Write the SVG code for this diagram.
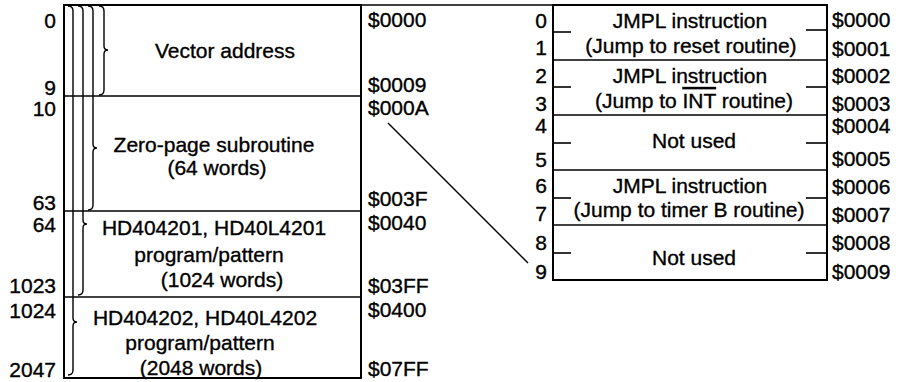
<svg xmlns="http://www.w3.org/2000/svg" width="898" height="382" viewBox="0 0 898 382">
<style>
text{font-family:"Liberation Sans",Arial,Helvetica,sans-serif;font-size:21px;fill:#000;stroke:#000;stroke-width:0.35}
.m{text-anchor:middle}
.e{text-anchor:end}
.b{fill:none;stroke:#000;stroke-width:2}
.d{fill:none;stroke:#000;stroke-width:1.6}
.br{fill:none;stroke:#000;stroke-width:1.4}
</style>
<rect width="898" height="382" fill="#fff"/>
<line class="d" x1="361" y1="5" x2="553" y2="5"/>
<g id="memory-map">
<rect class="b" x="64" y="5" width="297" height="373"/>
<line class="d" x1="64" y1="96" x2="361" y2="96"/>
<line class="d" x1="64" y1="211" x2="361" y2="211"/>
<line class="d" x1="64" y1="297" x2="361" y2="297"/>
</g>
<g id="braces">
<path class="br" d="M99,6 Q104,6 104,11 L104,46 Q104,50 108,50 Q104,50 104,54 L104,90 Q104,95 99,95"/>
<path class="br" d="M88,6 Q93,6 93,11 L93,144 Q93,148 97,148 Q93,148 93,152 L93,205 Q93,210 88,210"/>
<path class="br" d="M78,6 Q83,6 83,11 L83,220 Q83,224 87,224 Q83,224 83,228 L83,290 Q83,295 78,295"/>
<path class="br" d="M68,6 Q73,6 73,11 L73,318 Q73,322 77,322 Q73,322 73,326 L73,370 Q73,375 68,375"/>
</g>
<g id="vector-address"><text class="m" x="225" y="58">Vector address</text></g>
<g id="zero-page"><text class="m" x="214" y="152">Zero-page subroutine</text><text class="m" x="217" y="175">(64 words)</text></g>
<g id="hd404201"><text class="m" x="214" y="235">HD404201, HD40L4201</text><text class="m" x="209" y="262">program/pattern</text><text class="m" x="222" y="287">(1024 words)</text></g>
<g id="hd404202"><text class="m" x="205" y="325">HD404202, HD40L4202</text><text class="m" x="200" y="350">program/pattern</text><text class="m" x="201" y="375">(2048 words)</text></g>
<g id="left-decimal">
<text class="e" x="56" y="28">0</text>
<text class="e" x="56" y="95">9</text>
<text class="e" x="56" y="116">10</text>
<text class="e" x="56" y="210">63</text>
<text class="e" x="56" y="232">64</text>
<text class="e" x="56" y="293">1023</text>
<text class="e" x="56" y="318">1024</text>
<text class="e" x="56" y="377">2047</text>
</g>
<g id="left-hex">
<text x="368" y="27">$0000</text>
<text x="368" y="92">$0009</text>
<text x="368" y="115">$000A</text>
<text x="368" y="206">$003F</text>
<text x="368" y="230">$0040</text>
<text x="368" y="293">$03FF</text>
<text x="368" y="317">$0400</text>
<text x="368" y="376">$07FF</text>
</g>
<g id="connectors">
<line class="br" x1="388" y1="123" x2="528" y2="263"/>
</g>
<g id="vector-table">
<rect class="b" x="553" y="5" width="274" height="275"/>
<line class="d" x1="553" y1="60" x2="827" y2="60"/>
<line class="d" x1="553" y1="115" x2="827" y2="115"/>
<line class="d" x1="553" y1="170" x2="827" y2="170"/>
<line class="d" x1="553" y1="225" x2="827" y2="225"/>
<g class="d">
<line x1="553" y1="32" x2="571" y2="32"/><line x1="806" y1="30" x2="827" y2="30"/>
<line x1="553" y1="87" x2="571" y2="87"/><line x1="806" y1="87" x2="827" y2="87"/>
<line x1="553" y1="143" x2="571" y2="143"/><line x1="806" y1="143" x2="827" y2="143"/>
<line x1="553" y1="198" x2="571" y2="198"/><line x1="806" y1="198" x2="827" y2="198"/>
<line x1="553" y1="253" x2="571" y2="253"/><line x1="806" y1="253" x2="827" y2="253"/>
</g>
</g>
<g id="row-reset"><text class="m" x="690" y="28">JMPL instruction</text><text class="m" x="691" y="53">(Jump to reset routine)</text></g>
<g id="row-int"><text class="m" x="690" y="83">JMPL instruction</text><text class="m" x="694" y="108">(Jump to <tspan style="text-decoration:overline">INT</tspan> routine)</text></g>
<g id="row-unused1"><text class="m" x="694" y="148">Not used</text></g>
<g id="row-timer"><text class="m" x="690" y="193">JMPL instruction</text><text class="m" x="689" y="217">(Jump to timer B routine)</text></g>
<g id="row-unused2"><text class="m" x="694" y="265">Not used</text></g>
<g id="right-decimal">
<text class="e" x="547" y="28">0</text>
<text class="e" x="547" y="55">1</text>
<text class="e" x="547" y="83">2</text>
<text class="e" x="547" y="111">3</text>
<text class="e" x="547" y="133">4</text>
<text class="e" x="547" y="167">5</text>
<text class="e" x="547" y="193">6</text>
<text class="e" x="547" y="221">7</text>
<text class="e" x="547" y="250">8</text>
<text class="e" x="547" y="279">9</text>
</g>
<g id="right-hex">
<text x="832" y="27">$0000</text>
<text x="832" y="56">$0001</text>
<text x="832" y="83">$0002</text>
<text x="832" y="111">$0003</text>
<text x="832" y="133">$0004</text>
<text x="832" y="166">$0005</text>
<text x="832" y="194">$0006</text>
<text x="832" y="222">$0007</text>
<text x="832" y="250">$0008</text>
<text x="832" y="279">$0009</text>
</g>
</svg>
